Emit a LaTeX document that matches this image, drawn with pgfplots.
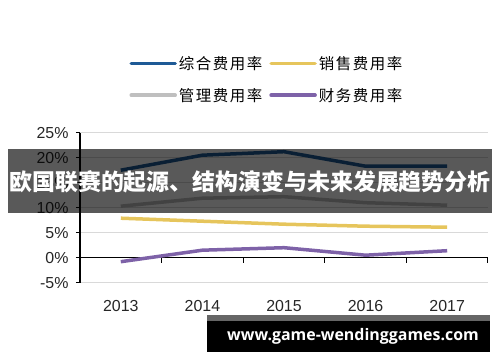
\documentclass[border=0pt]{standalone}
\usepackage{pgfplots}
\pgfplotsset{compat=1.18}
\usepackage{fontspec}
\setmainfont{Liberation Sans}
\newfontfamily\cjk{Noto Sans CJK SC}
\newfontfamily\cjkleg{Noto Sans CJK SC}[LetterSpace=10]
\newfontfamily\wm{Open Sans}
\definecolor{czh}{RGB}{30,90,150}
\definecolor{cxs}{RGB}{230,197,92}
\definecolor{cgl}{RGB}{191,191,191}
\definecolor{ccw}{RGB}{126,98,168}
\definecolor{gridc}{RGB}{217,217,217}
\begin{document}
\begin{tikzpicture}
\useasboundingbox (0bp,0bp) rectangle (500bp,362bp);
\begin{axis}[
  at={(80bp,79.3bp)}, anchor=south west,
  scale only axis, width=408bp, height=150bp,
  clip=false,
  xmin=-0.5, xmax=4.5, ymin=-5, ymax=25,
  xtick={0,1,2,3,4}, xticklabels={2013,2014,2015,2016,2017},
  ytick={-5,0,5,10,15,20,25},
  yticklabel={\pgfmathprintnumber{\tick}\%},
  axis lines=left,
  axis line style={-},
  x axis line style={draw=none},
  y axis line style={black, line width=1.2bp},
  xtick style={draw=none},
  ytick style={black, line width=1bp},
  tick align=outside,
  major tick length=4bp,
  ymajorgrids,
  grid style={color=gridc, line width=1bp},
  /pgf/number format/assume math mode=true,
  tick label style={font=\fontsize{16}{19}\selectfont, text=black!85},
  xticklabel style={yshift=-10bp},
  yticklabel style={xshift=-4bp},
  legend columns=2,
  legend style={font=\cjkleg\fontsize{15.5}{18}\selectfont, draw=none, fill=none,
    at={(0.458,1.355)}, anchor=center,
    /tikz/every even column/.append style={column sep=5bp},
    row sep=13bp},
  legend image code/.code={\draw[#1, line width=3.5bp, line cap=round] (0bp,0bp) -- (44bp,0bp);},
]
\draw[black, line width=1.2bp] (axis cs:-0.5,0) -- (axis cs:4.5,0);
\draw[black, line width=1bp] (axis cs:0.5,0) -- ([yshift=-5bp]axis cs:0.5,0);
\draw[black, line width=1bp] (axis cs:1.5,0) -- ([yshift=-5bp]axis cs:1.5,0);
\draw[black, line width=1bp] (axis cs:2.5,0) -- ([yshift=-5bp]axis cs:2.5,0);
\draw[black, line width=1bp] (axis cs:3.5,0) -- ([yshift=-5bp]axis cs:3.5,0);
\draw[black, line width=1bp] (axis cs:4.5,0) -- ([yshift=-5bp]axis cs:4.5,0);
\addplot[czh, line width=3.5bp, line join=round] coordinates {(0,17.5)(1,20.5)(2,21.2)(3,18.3)(4,18.3)};
\addlegendentry{综合费用率}
\addplot[cxs, line width=3.5bp, line join=round] coordinates {(0,7.9)(1,7.3)(2,6.7)(3,6.3)(4,6.1)};
\addlegendentry{销售费用率}
\addplot[cgl, line width=3.5bp, line join=round] coordinates {(0,10.3)(1,11.9)(2,12.2)(3,11.0)(4,10.5)};
\addlegendentry{管理费用率}
\addplot[ccw, line width=3.5bp, line join=round] coordinates {(0,-0.8)(1,1.5)(2,2.0)(3,0.5)(4,1.4)};
\addlegendentry{财务费用率}
\end{axis}
\fill[black, opacity=0.65] (8bp,213bp) rectangle (492bp,149.3bp);
\node[white, font=\cjk\bfseries\fontsize{23}{28}\selectfont, inner sep=0] at (250bp,180.5bp) {欧国联赛的起源、结构演变与未来发展趋势分析};
\fill[black!60] (207bp,47bp) rectangle (490bp,41bp);
\fill[black] (207bp,41bp) rectangle (490bp,10bp);
\node[white, font=\wm\bfseries\fontsize{16}{19}\selectfont, inner sep=0] at (353bp,25.5bp) {www.game-wendinggames.com};
\end{tikzpicture}
\end{document}
